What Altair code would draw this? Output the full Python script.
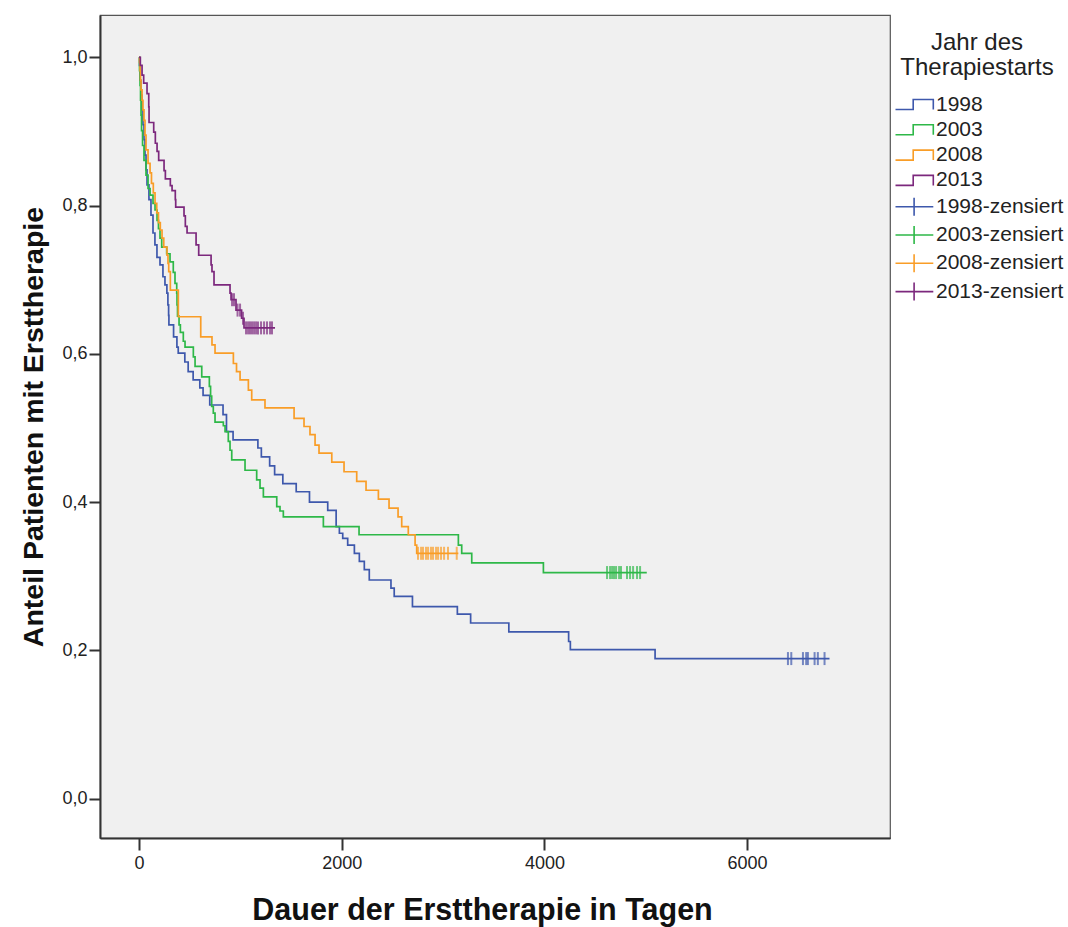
import altair as alt
import pandas as pd

# ---------------- data ----------------
years = ["1998", "2003", "2008", "2013"]
colors = ["#3E58AC", "#2EB848", "#F99D27", "#7C287D"]

t_1998 = [5, 10, 20, 30, 39, 49, 59, 69, 79, 98, 118, 138, 157, 177, 207, 236, 256, 275, 285, 292,
          295, 341, 374, 387, 452, 485, 534, 600, 632, 698, 829, 863, 928, 1173, 1207, 1289, 1338, 1419,
          1551, 1682, 1862, 1945, 1977, 2010, 2059, 2125, 2174, 2223, 2272, 2486, 2518, 2698, 3141, 3272,
          3649, 4239, 4256, 5092]
s_1998 = [0.989, 0.969, 0.949, 0.929, 0.909, 0.889, 0.868, 0.848, 0.828, 0.808, 0.787, 0.763, 0.747,
          0.730, 0.720, 0.704, 0.693, 0.682, 0.666, 0.652, 0.639, 0.623, 0.609, 0.601, 0.589, 0.576,
          0.565, 0.554, 0.544, 0.531, 0.518, 0.495, 0.484, 0.473, 0.461, 0.449, 0.437, 0.425, 0.414,
          0.400, 0.389, 0.367, 0.358, 0.351, 0.342, 0.331, 0.320, 0.309, 0.295, 0.284, 0.273, 0.259,
          0.249, 0.237, 0.225, 0.212, 0.201, 0.189]
end_1998 = 6813
cens_1998 = [6403, 6436, 6551, 6583, 6600, 6666, 6698, 6764]

t_2003 = [5, 10, 15, 20, 25, 35, 49, 69, 89, 109, 138, 158, 178, 192, 207, 224, 273, 306, 338, 355,
          372, 375, 380, 395, 408, 437, 454, 536, 553, 619, 694, 706, 717, 733, 750, 832, 849, 881, 898,
          915, 1046, 1161, 1194, 1227, 1359, 1391, 1424, 1819, 2171, 3151, 3184, 3283, 3990]
s_2003 = [0.982, 0.962, 0.942, 0.922, 0.901, 0.881, 0.861, 0.841, 0.823, 0.814, 0.803, 0.794, 0.780,
          0.769, 0.756, 0.744, 0.735, 0.724, 0.710, 0.695, 0.682, 0.666, 0.651, 0.639, 0.629, 0.617,
          0.609, 0.596, 0.583, 0.569, 0.556, 0.543, 0.529, 0.520, 0.508, 0.503, 0.495, 0.482, 0.470,
          0.457, 0.443, 0.430, 0.419, 0.407, 0.394, 0.388, 0.380, 0.367, 0.356, 0.342, 0.331, 0.318,
          0.305]
end_2003 = 5010
cens_2003 = [4618, 4648, 4668, 4687, 4707, 4737, 4756, 4815, 4845, 4875, 4914, 4944]

t_2008 = [5, 10, 15, 20, 30, 39, 49, 59, 69, 89, 109, 123, 141, 158, 175, 192, 210, 227, 244, 276,
          286, 293, 309, 388, 609, 720, 750, 931, 962, 997, 1079, 1112, 1243, 1530, 1628, 1687, 1737,
          1776, 1902, 2023, 2148, 2240, 2362, 2467, 2556, 2592, 2657, 2724, 2740]
s_2008 = [0.993, 0.982, 0.969, 0.956, 0.942, 0.929, 0.915, 0.895, 0.875, 0.857, 0.844, 0.830, 0.817,
          0.803, 0.790, 0.777, 0.767, 0.756, 0.744, 0.733, 0.722, 0.711, 0.686, 0.650, 0.623, 0.612,
          0.601, 0.587, 0.576, 0.565, 0.551, 0.538, 0.527, 0.513, 0.502, 0.491, 0.477, 0.466, 0.454,
          0.441, 0.428, 0.416, 0.404, 0.392, 0.380, 0.367, 0.356, 0.342, 0.331]
end_2008 = 3151
cens_2008 = [2753, 2783, 2802, 2832, 2852, 2881, 2901, 2931, 2951, 2980, 3010, 3049, 3135]

t_2013 = [13, 30, 46, 79, 96, 99, 145, 161, 178, 194, 247, 260, 309, 326, 358, 362, 444, 457, 474,
          563, 589, 711, 720, 740, 898, 908, 957, 1012, 1036]
s_2013 = [0.989, 0.976, 0.965, 0.951, 0.933, 0.912, 0.899, 0.884, 0.873, 0.861, 0.847, 0.836, 0.827,
          0.820, 0.808, 0.798, 0.786, 0.772, 0.763, 0.747, 0.733, 0.720, 0.711, 0.693, 0.682, 0.673,
          0.659, 0.648, 0.635]
end_2013 = 1342
cens_2013 = [918, 937, 972, 997, 1026, 1056, 1076, 1095, 1115, 1135, 1155, 1174, 1204, 1234, 1263,
             1293, 1312]

x_ticks = [0, 2000, 4000, 6000]
y_ticks = [0.0, 0.2, 0.4, 0.6, 0.8, 1.0]

series = {
    "1998": (t_1998, s_1998, end_1998, cens_1998),
    "2003": (t_2003, s_2003, end_2003, cens_2003),
    "2008": (t_2008, s_2008, end_2008, cens_2008),
    "2013": (t_2013, s_2013, end_2013, cens_2013),
}

# ---------------- tables ----------------
line_rows, cens_rows = [], []
for yr, (ts, ss, end, cens) in series.items():
    pts = [(0, 1.0)] + list(zip(ts, ss)) + [(end, ss[-1])]
    for i, (t, s) in enumerate(pts):
        line_rows.append({"time": t, "surv": s, "entry": yr, "idx": i})
    for c in cens:
        level = 1.0
        for t, s in zip(ts, ss):
            if t <= c:
                level = s
        cens_rows.append({"time": c, "surv": level, "entry": yr + "-zensiert"})
line_df = pd.DataFrame(line_rows)
cens_df = pd.DataFrame(cens_rows)
all_df = pd.concat([line_df[["time", "surv", "entry"]], cens_df], ignore_index=True)

domain = years + [y + "-zensiert" for y in years]
color_scale = alt.Scale(domain=domain, range=colors + colors)

FONT = "Liberation Sans"
# legend glyphs (paths retrace themselves so that they enclose no area)
STEP_PATH = "M-1,0.83L1.95,0.83L1.95,-0.83L5.3,-0.83L5.3,0.83L5.3,-0.83L1.95,-0.83L1.95,0.83Z"
CENS_PATH = "M-1,0L5.3,0L-1,0ZM2.1,-1.5L2.1,1.5L2.1,-1.5Z"
shape_scale = alt.Scale(domain=domain, range=[STEP_PATH] * 4 + [CENS_PATH] * 4)

legend = alt.Legend(
    title=["Jahr des", "Therapiestarts"],
    orient="none", legendX=791, legendY=16,
    titleFont=FONT, titleFontSize=24, titleFontWeight="normal", titleColor="#222",
    titleAnchor="middle", titleAlign="center", titleLineHeight=25, titlePadding=14,
    labelFont=FONT, labelFontSize=21, labelColor="#222", labelOffset=24,
    symbolSize=144, symbolStrokeWidth=1.6, symbolFillColor="transparent", symbolOpacity=1,
    rowPadding=3.3, padding=0,
)

x_enc = alt.X("time:Q",
              scale=alt.Scale(domain=[-385, 7410], nice=False, zero=False),
              axis=alt.Axis(values=x_ticks, format="d", title="Dauer der Ersttherapie in Tagen",
                            labelFontSize=18, tickSize=12, labelPadding=4,
                            titleX=382, titleY=72, titleBaseline="middle",
                            titleFontSize=30.5, titleFontWeight="bold"))
y_enc = alt.Y("surv:Q",
              scale=alt.Scale(domain=[-0.053, 1.057], nice=False, zero=False),
              axis=alt.Axis(values=y_ticks, title="Anteil Patienten mit Ersttherapie",
                            labelExpr="replace(format(datum.value, '.1f'), '.', ',')",
                            labelFontSize=18, tickSize=11, labelPadding=2,
                            titleX=-67, titleY=411.5, titleBaseline="middle", titleAlign="center",
                            titleFontSize=28.5, titleFontWeight="bold"))

# legend carrier: invisible points, colour + glyph encoded on the same field
legend_layer = alt.Chart(all_df).mark_point(filled=False, size=144, strokeWidth=1.6, opacity=0).encode(
    x=x_enc, y=y_enc,
    color=alt.Color("entry:N", scale=color_scale, legend=legend),
    shape=alt.Shape("entry:N", scale=shape_scale, legend=legend),
)

lines = alt.Chart(line_df).mark_line(interpolate="step-after", strokeWidth=1.7).encode(
    x=x_enc, y=y_enc,
    color=alt.Color("entry:N", scale=color_scale, legend=None),
    order=alt.Order("idx:Q"),
)

ticks = alt.Chart(cens_df).mark_tick(orient="vertical", size=13, thickness=2).encode(
    x=x_enc, y=y_enc,
    color=alt.Color("entry:N", scale=color_scale, legend=None),
)

chart = alt.layer(legend_layer, lines, ticks).properties(
    width=790, height=823,
    autosize=alt.AutoSizeParams(type="none"),
    padding={"left": 100, "top": 15, "right": 178, "bottom": 89},
    background="white",
).configure_view(
    fill="#F0F0F0", stroke="#555", strokeWidth=1.2,
).configure_axis(
    grid=False, labelFont=FONT, titleFont=FONT, labelColor="#222", titleColor="#111",
    domainColor="#333", domainWidth=2, tickColor="#333", tickWidth=2,
)

chart.save("out.html", embed_options={"renderer": "svg", "actions": False})
